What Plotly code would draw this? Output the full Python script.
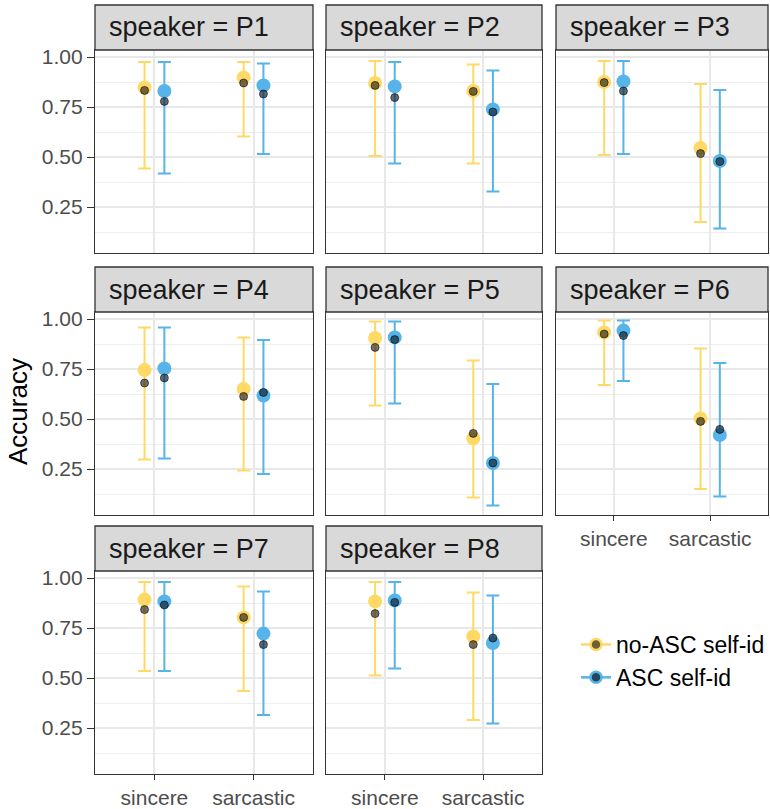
import plotly.graph_objects as go

# ---------------- data ----------------
speakers = ["P1", "P2", "P3", "P4", "P5", "P6", "P7", "P8"]
conditions = ["sincere", "sarcastic"]
groups = ["no-ASC self-id", "ASC self-id"]
y_ticks = [0.25, 0.50, 0.75, 1.00]
y_ticklabels = ["0.25", "0.50", "0.75", "1.00"]

# values ordered speaker by speaker: (sincere, sarcastic)
noasc_fit = [0.847, 0.897, 0.870, 0.830, 0.875, 0.545, 0.745, 0.650,
             0.905, 0.403, 0.933, 0.503, 0.892, 0.803, 0.883, 0.708]
noasc_lo = [0.442, 0.602, 0.505, 0.467, 0.510, 0.175, 0.297, 0.243,
            0.567, 0.108, 0.670, 0.150, 0.535, 0.435, 0.512, 0.290]
noasc_hi = [0.975, 0.975, 0.980, 0.963, 0.980, 0.865, 0.957, 0.908,
            0.988, 0.793, 0.992, 0.852, 0.980, 0.957, 0.980, 0.927]
noasc_obs = [0.833, 0.870, 0.858, 0.828, 0.872, 0.517, 0.680, 0.613,
             0.858, 0.428, 0.925, 0.488, 0.842, 0.803, 0.822, 0.667]

asc_fit = [0.830, 0.858, 0.853, 0.738, 0.878, 0.480, 0.753, 0.617,
           0.908, 0.280, 0.942, 0.420, 0.883, 0.722, 0.888, 0.675]
asc_lo = [0.418, 0.515, 0.467, 0.327, 0.515, 0.143, 0.303, 0.225,
          0.578, 0.067, 0.690, 0.113, 0.535, 0.315, 0.548, 0.273]
asc_hi = [0.975, 0.968, 0.975, 0.932, 0.980, 0.835, 0.957, 0.895,
          0.988, 0.675, 0.992, 0.780, 0.980, 0.933, 0.980, 0.913]
asc_obs = [0.778, 0.815, 0.797, 0.725, 0.830, 0.477, 0.705, 0.633,
           0.897, 0.280, 0.917, 0.448, 0.865, 0.667, 0.878, 0.700]

series = [
    (noasc_fit, noasc_lo, noasc_hi, noasc_obs),
    (asc_fit, asc_lo, asc_hi, asc_obs),
]

# ---------------- style ----------------
W, H = 770, 809
FONT = "Liberation Sans, Arial, sans-serif"
COLORS = ["#FFD966", "#56B4E9"]
DOT_FILL = ["rgba(40,35,25,0.66)", "rgba(15,30,45,0.66)"]
DODGE = [-0.1, 0.1]
col_px = [(95, 313), (326, 542), (556, 768)]
row_px = [(50, 253), (312, 515), (571, 774)]
STRIP_H = 45
GRID = "#E8E8E8"

fig = go.Figure()
layout = {}
shapes = []
annotations = []

for i, sp in enumerate(speakers):
    r, c = divmod(i, 3)
    suf = "" if i == 0 else str(i + 1)
    xa, ya = "x" + suf, "y" + suf
    sl = slice(2 * i, 2 * i + 2)
    xs = [1, 2]
    for g in range(2):
        fit, lo, hi, obs = (s[sl] for s in series[g])
        xg = [x + DODGE[g] for x in xs]
        fig.add_trace(go.Scatter(
            x=xg, y=fit, mode="markers",
            marker=dict(size=14, color=COLORS[g]),
            error_y=dict(type="data", symmetric=False,
                         array=[h - f for h, f in zip(hi, fit)],
                         arrayminus=[f - l for f, l in zip(fit, lo)],
                         color=COLORS[g], thickness=2, width=6.5),
            xaxis=xa, yaxis=ya, showlegend=False, hoverinfo="skip"))
    for g in range(2):
        fit, lo, hi, obs = (s[sl] for s in series[g])
        xg = [x + DODGE[g] for x in xs]
        fig.add_trace(go.Scatter(
            x=xg, y=obs, mode="markers",
            marker=dict(size=8, color=DOT_FILL[g],
                        line=dict(width=1, color="rgba(0,0,0,0.55)")),
            xaxis=xa, yaxis=ya, showlegend=False, hoverinfo="skip"))

    x0, x1 = col_px[c]
    y0, y1 = row_px[r]
    bottom = i in (5, 6, 7)
    left = c == 0
    layout["xaxis" + suf] = dict(
        domain=[x0 / W, x1 / W], range=[0.4, 2.6], anchor=ya,
        tickvals=xs, ticktext=conditions, showticklabels=bottom,
        ticks="outside" if bottom else "", ticklen=5, tickwidth=1.3,
        tickcolor="#333333", tickfont=dict(size=21, color="#4D4D4D", family=FONT),
        showgrid=True, gridcolor=GRID, gridwidth=1.5, zeroline=False,
        showline=True, mirror=True, linecolor="#333333", linewidth=1.3,
        fixedrange=True)
    layout["yaxis" + suf] = dict(
        domain=[1 - y1 / H, 1 - y0 / H], range=[0.02, 1.035], anchor=xa,
        tickvals=y_ticks, ticktext=y_ticklabels, showticklabels=left,
        ticks="outside" if left else "", ticklen=7, tickwidth=1.3,
        tickcolor="#333333", tickfont=dict(size=21, color="#4D4D4D", family=FONT),
        showgrid=True, gridcolor=GRID, gridwidth=1.5, zeroline=False,
        minor=dict(tickvals=[0.125, 0.375, 0.625, 0.875], showgrid=True,
                   gridcolor="#EEEEEE", gridwidth=1, ticks=""),
        showline=True, mirror=True, linecolor="#333333", linewidth=1.3,
        fixedrange=True)

    # facet strip
    shapes.append(dict(type="rect", xref="paper", yref="paper",
                       x0=x0 / W, x1=x1 / W,
                       y0=1 - y0 / H, y1=1 - (y0 - STRIP_H) / H,
                       fillcolor="#D9D9D9", line=dict(color="#333333", width=1.3)))
    annotations.append(dict(text="speaker = " + sp, xref="paper", yref="paper",
                            x=(x0 + 12) / W, y=1 - (y0 - STRIP_H / 2) / H,
                            xanchor="left", yanchor="middle", showarrow=False,
                            font=dict(size=27, color="#1A1A1A", family=FONT)))

# y-axis title
annotations.append(dict(text="Accuracy", xref="paper", yref="paper",
                        x=18 / W, y=1 - 412 / H, textangle=-90,
                        xanchor="center", yanchor="middle", showarrow=False,
                        font=dict(size=26, color="#000000", family=FONT)))

# legend entries
for g in range(2):
    fig.add_trace(go.Scatter(
        x=[None], y=[None], mode="lines+markers", name=groups[g],
        line=dict(color=COLORS[g], width=2.5),
        marker=dict(size=11, color=["#6E5F35", "#24475C"][g],
                    line=dict(color=COLORS[g], width=2.5)),
        xaxis="x", yaxis="y", showlegend=True))

fig.update_layout(
    width=W, height=H, margin=dict(l=0, r=0, t=0, b=0, autoexpand=False),
    paper_bgcolor="white", plot_bgcolor="white",
    font=dict(family=FONT, color="#000000"),
    shapes=shapes, annotations=annotations,
    legend=dict(x=576 / W, y=1 - 623 / H, xanchor="left", yanchor="top",
                font=dict(size=23, color="#000000", family=FONT),
                bgcolor="rgba(0,0,0,0)", tracegroupgap=0, itemwidth=30),
    **layout)

fig.write_html("out.html")
